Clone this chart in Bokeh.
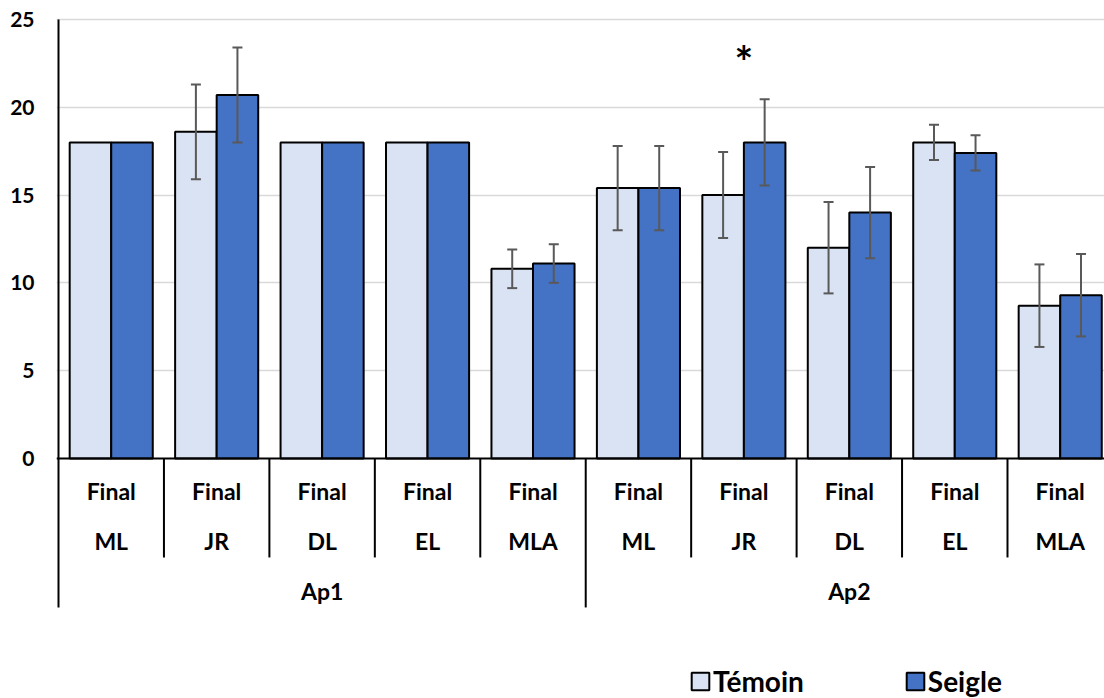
from bokeh.plotting import figure
from bokeh.models import ColumnDataSource, Whisker, TeeHead, FixedTicker, Span, Legend, LegendItem
from bokeh.core.properties import value
from bokeh.embed import file_html
from bokeh.resources import INLINE

# ---- data ----
treatments = ["Ap1", "Ap2"]
measures = ["ML", "JR", "DL", "EL", "MLA"]
stage = "Final"
series_names = ["Témoin", "Seigle"]
temoin = [18.0, 18.6, 18.0, 18.0, 10.8, 15.4, 15.0, 12.0, 18.0, 8.7]
temoin_err = [0.0, 2.7, 0.0, 0.0, 1.1, 2.4, 2.45, 2.6, 1.0, 2.35]
seigle = [18.0, 20.7, 18.0, 18.0, 11.1, 15.4, 18.0, 14.0, 17.4, 9.3]
seigle_err = [0.0, 2.7, 0.0, 0.0, 1.1, 2.4, 2.45, 2.6, 1.0, 2.35]
signif = ["", "", "", "", "", "", "*", "", "", ""]
y_ticks = [0, 5, 10, 15, 20, 25]

# ---- layout constants ----
FONT = "Lato"
n = len(temoin)
per_t = len(measures)
bar_w = 0.394
off = 0.197
px_per_unit_y = 17.56

centers = [i + 0.5 for i in range(n)]
xt = [c - off for c in centers]
xs = [c + off for c in centers]

p = figure(width=1104, height=698, output_backend="svg", toolbar_location=None,
           x_range=(-0.019, 9.92), y_range=(-13.67, 25.51),
           x_axis_location=None, min_border_left=56, min_border_right=0,
           min_border_top=10, min_border_bottom=0)
p.outline_line_color = None
p.xgrid.visible = False
p.ygrid.ticker = FixedTicker(ticks=y_ticks[1:])
p.ygrid.grid_line_color = "#d9d9d9"
p.ygrid.grid_line_width = 1.5

p.yaxis.ticker = FixedTicker(ticks=y_ticks)
p.yaxis.axis_line_color = None
p.yaxis.major_tick_line_color = None
p.yaxis.minor_tick_line_color = None
p.yaxis.major_tick_out = 0
p.yaxis.major_label_standoff = 22
p.yaxis.major_label_text_font = FONT
p.yaxis.major_label_text_font_style = "bold"
p.yaxis.major_label_text_font_size = "21px"
p.yaxis.major_label_text_color = "#000000"

src = ColumnDataSource(dict(xt=xt, xs=xs, t=temoin, s=seigle))
rt = p.vbar(x="xt", top="t", width=bar_w, bottom=0, source=src,
            fill_color="#dae3f3", line_color="black", line_width=2)
rs = p.vbar(x="xs", top="s", width=bar_w, bottom=0, source=src,
            fill_color="#4472c4", line_color="black", line_width=2)

# error bars
def add_err(xvals, vals, errs):
    xx = [x for x, e in zip(xvals, errs) if e > 0]
    lo = [v - e for v, e in zip(vals, errs) if e > 0]
    hi = [v + e for v, e in zip(vals, errs) if e > 0]
    es = ColumnDataSource(dict(x=xx, lo=lo, hi=hi))
    w = Whisker(base="x", upper="hi", lower="lo", source=es, level="overlay",
                line_color="#595959", line_width=2,
                upper_head=TeeHead(size=10, line_color="#595959", line_width=2),
                lower_head=TeeHead(size=10, line_color="#595959", line_width=2))
    p.add_layout(w)

add_err(xt, temoin, temoin_err)
add_err(xs, seigle, seigle_err)

# significance marks
sig_y = [max(s + e, t + f) + 2.2 for s, e, t, f in zip(seigle, seigle_err, temoin, temoin_err)]
p.text(x=[c for c, s in zip(centers, signif) if s], y=[y for y, s in zip(sig_y, signif) if s],
       text=[s for s in signif if s], text_font=value(FONT), text_font_style="bold",
       text_font_size="44px", text_align="center", text_baseline="middle", text_color="black")

# baseline and left axis line
p.add_layout(Span(location=0, dimension="width", line_color="black", line_width=2))
y_bottom_long = -(607 - 458) / px_per_unit_y
y_bottom_short = -(557 - 458) / px_per_unit_y
p.segment(x0=[0], y0=[y_bottom_long], x1=[0], y1=[y_ticks[-1]], line_color="black", line_width=2)

# category dividers
div_x = list(range(1, n))
div_y = [y_bottom_long if x % per_t == 0 else y_bottom_short for x in div_x]
p.segment(x0=div_x, y0=[0] * len(div_x), x1=div_x, y1=div_y, line_color="black", line_width=2)

# category labels
y_stage = -(491 - 458) / px_per_unit_y
y_meas = -(541 - 458) / px_per_unit_y
y_treat = -(591 - 458) / px_per_unit_y
lab = dict(text_font=value(FONT), text_font_style="bold", text_font_size="23px",
           text_align="center", text_baseline="middle", text_color="black")
p.text(x=centers, y=[y_stage] * n, text=[stage] * n, **lab)
p.text(x=centers, y=[y_meas] * n, text=measures * len(treatments), **lab)
p.text(x=[per_t * (k + 0.5) for k in range(len(treatments))], y=[y_treat] * len(treatments),
       text=treatments, **lab)

legend = Legend(items=[LegendItem(label=series_names[0], renderers=[rt]),
                       LegendItem(label=series_names[1], renderers=[rs])],
                orientation="horizontal", location=(633, 0),
                border_line_color=None, background_fill_alpha=0,
                padding=0, margin=0, spacing=100,
                glyph_width=22, glyph_height=22, label_height=22, label_standoff=2,
                label_text_font=FONT, label_text_font_style="bold",
                label_text_font_size="28px", label_text_color="black")
p.add_layout(legend)

open("out.html", "w").write(file_html(p, INLINE))
